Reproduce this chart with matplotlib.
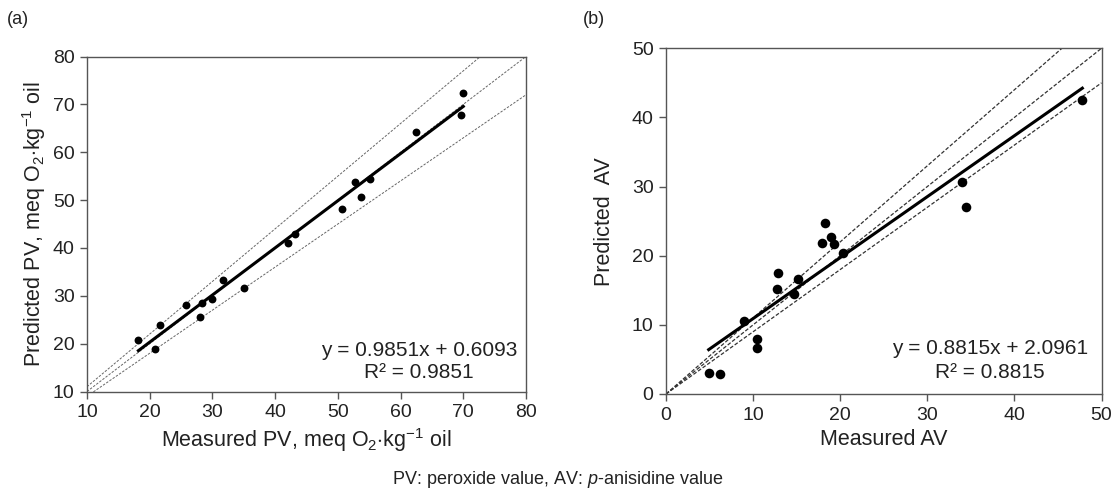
import matplotlib
matplotlib.use("Agg")
import matplotlib.pyplot as plt
import numpy as np

plt.rcParams['font.family'] = ['Liberation Sans', 'DejaVu Sans']
plt.rcParams['mathtext.fontset'] = 'custom'
plt.rcParams['mathtext.rm'] = 'Liberation Sans'
plt.rcParams['mathtext.it'] = 'Liberation Sans:italic'
plt.rcParams['mathtext.bf'] = 'Liberation Sans:bold'

# Panel (a): PV
pv_measured = [18.2, 20.9, 21.6, 25.8, 28.0, 28.3, 30.0, 31.7, 35.0, 42.0, 43.2,
               50.7, 52.8, 53.7, 55.2, 62.5, 69.9, 69.7]
pv_predicted = [20.7, 18.8, 24.0, 28.0, 25.5, 28.5, 29.4, 33.4, 31.7, 41.1, 43.0,
                48.2, 53.7, 50.7, 54.4, 64.3, 72.3, 67.7]
pv_fit = (0.9851, 0.6093)
pv_fit_range = (18.2, 70.0)
pv_ticks = [10, 20, 30, 40, 50, 60, 70, 80]

# Panel (b): AV
av_measured = [4.9, 6.2, 8.9, 10.5, 10.4, 12.9, 12.8, 14.7, 15.2, 17.9, 18.3,
               19.0, 19.3, 20.3, 34.0, 34.4, 47.8]
av_predicted = [3.1, 2.9, 10.6, 8.0, 6.7, 17.5, 15.2, 14.4, 16.6, 21.9, 24.8,
                22.7, 21.7, 20.4, 30.6, 27.0, 42.5]
av_fit = (0.8815, 2.0961)
av_fit_range = (4.9, 47.8)
av_ticks = [0, 10, 20, 30, 40, 50]

band_slopes = [1.1, 1.0, 0.9]

W, H = 1116, 500
fig = plt.figure(figsize=(W / 100, H / 100), dpi=100)

def make_axes(l, r, b, t):
    return fig.add_axes([l / W, 1 - b / H, (r - l) / W, (b - t) / H])

axa = make_axes(87, 526, 391.5, 56.5)
axb = make_axes(666, 1101.5, 394, 48.3)

spine_c = '#555555'
txt_c = '#222222'
tick_fs = 14
lab_fs = 15.5
eq_fs = 15

def style(ax, ticks):
    for s in ax.spines.values():
        s.set_color(spine_c)
        s.set_linewidth(1.0)
    ax.set_xticks(ticks)
    ax.set_yticks(ticks)
    ax.tick_params(direction='out', length=5, width=1.0, color=spine_c,
                   labelsize=tick_fs, labelcolor=txt_c, pad=4)

# panel a
xs = np.array([10, 80], dtype=float)
for s in band_slopes:
    axa.plot(xs, s * xs, linestyle=(0, (2.5, 1.5)), color='#666666', lw=0.7, zorder=1)
fx = np.array(pv_fit_range)
axa.plot(fx, pv_fit[0] * fx + pv_fit[1], color='black', lw=2.2, zorder=2)
axa.scatter(pv_measured, pv_predicted, s=32, color='black', zorder=3, linewidths=0)
axa.set_xlim(10, 80)
axa.set_ylim(10, 80)
style(axa, pv_ticks)
axa.set_xlabel(r"Measured PV, meq O$_2$$\cdot$kg$^{-1}$ oil", fontsize=lab_fs, color=txt_c, labelpad=4)
axa.set_ylabel(r"Predicted PV, meq O$_2$$\cdot$kg$^{-1}$ oil", fontsize=lab_fs, color=txt_c, labelpad=3)
fig.text(419 / W, 1 - 350 / H, "y = 0.9851x + 0.6093", ha='center', va='center', fontsize=eq_fs, color=txt_c)
fig.text(419 / W, 1 - 373 / H, "R² = 0.9851", ha='center', va='center', fontsize=eq_fs, color=txt_c)

# panel b
xs = np.array([0, 50], dtype=float)
for s in band_slopes:
    axb.plot(xs, s * xs, linestyle=(0, (3, 1.5)), color='#333333', lw=0.9, zorder=1)
fx = np.array(av_fit_range)
axb.plot(fx, av_fit[0] * fx + av_fit[1], color='black', lw=2.2, zorder=2)
axb.scatter(av_measured, av_predicted, s=48, color='black', zorder=3, linewidths=0)
axb.set_xlim(0, 50)
axb.set_ylim(0, 50)
style(axb, av_ticks)
axb.set_xlabel("Measured AV", fontsize=lab_fs, color=txt_c, labelpad=4)
axb.set_ylabel("Predicted  AV", fontsize=lab_fs, color=txt_c, labelpad=12)
fig.text(990 / W, 1 - 348 / H, "y = 0.8815x + 2.0961", ha='center', va='center', fontsize=eq_fs, color=txt_c)
fig.text(990 / W, 1 - 372 / H, "R² = 0.8815", ha='center', va='center', fontsize=eq_fs, color=txt_c)

fig.text(18 / W, 1 - 19 / H, "(a)", ha='center', va='center', fontsize=13, color=txt_c)
fig.text(594 / W, 1 - 19 / H, "(b)", ha='center', va='center', fontsize=13, color=txt_c)
fig.text(558 / W, 1 - 480 / H, r"PV: peroxide value, AV: $\it{p}$-anisidine value",
         ha='center', va='center', fontsize=13, color=txt_c)

fig.savefig("out.png", dpi=100)
